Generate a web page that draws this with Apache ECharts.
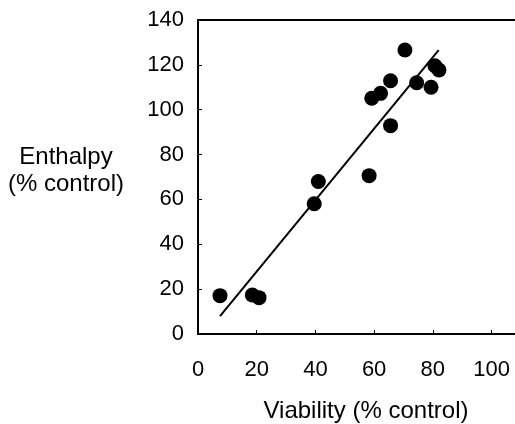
<!DOCTYPE html>
<html>
<head>
<meta charset="utf-8">
<script src="https://cdn.jsdelivr.net/npm/echarts@6/dist/echarts.min.js"></script>
<style>
  html, body { margin: 0; padding: 0; background: #fff; }
  #chart { width: 515px; height: 424px; }
</style>
</head>
<body>
<div id="chart"></div>
<script>
// Viability vs enthalpy, both as % of control
const viability = [7.5, 18.5, 20.8, 39.6, 41.0, 58.3, 59.2, 62.2, 65.6, 65.6, 70.5, 74.5, 79.4, 80.7, 82.1];
const enthalpy  = [17.1, 17.4, 16.2, 58.1, 68.0, 70.6, 105.1, 107.3, 112.9, 92.9, 126.6, 112.0, 110.0, 119.6, 117.7];

// Fitted line end points
const fitX = [7.5, 82.0];
const fitY = [8.0, 126.6];

const xTicks = [0, 20, 40, 60, 80, 100];
const yTicks = [0, 20, 40, 60, 80, 100, 120, 140];

const font = '"Liberation Sans", Arial, sans-serif';

const chart = echarts.init(document.getElementById('chart'), null, { renderer: 'canvas' });

chart.setOption({
  animation: false,
  backgroundColor: '#fff',
  grid: { left: 198, right: 0, top: 20, bottom: 90 },
  xAxis: [{
    type: 'value',
    min: 0,
    max: 108,
    interval: 20,
    axisLine: { show: true, lineStyle: { color: '#000', width: 2 } },
    axisTick: { show: true, inside: true, length: 4, lineStyle: { color: '#000', width: 1 } },
    axisLabel: {
      color: '#000', fontFamily: font, fontSize: 22, margin: 25,
      showMaxLabel: false,
      formatter: v => (xTicks.indexOf(v) >= 0 ? String(v) : '')
    },
    splitLine: { show: false }
  }, {
    type: 'value',
    position: 'top',
    min: 0,
    max: 108,
    axisLine: { show: true, onZero: false, lineStyle: { color: '#000', width: 2 } },
    axisTick: { show: false },
    axisLabel: { show: false },
    splitLine: { show: false }
  }],
  yAxis: {
    type: 'value',
    min: 0,
    max: 140,
    interval: 20,
    axisLine: { show: true, lineStyle: { color: '#000', width: 2 } },
    axisTick: { show: true, inside: true, length: 4, lineStyle: { color: '#000', width: 1 } },
    axisLabel: {
      color: '#000', fontFamily: font, fontSize: 22, margin: 14,
      formatter: v => (yTicks.indexOf(v) >= 0 ? String(v) : '')
    },
    splitLine: { show: false }
  },
  graphic: [{
    type: 'text',
    style: {
      text: 'Enthalpy\n(% control)',
      x: 66, y: 171,
      textAlign: 'center', textVerticalAlign: 'middle',
      font: '24px ' + font, lineHeight: 27, fill: '#000'
    }
  }, {
    type: 'text',
    style: {
      text: 'Viability (% control)',
      x: 366, y: 411,
      textAlign: 'center', textVerticalAlign: 'middle',
      font: '24px ' + font, fill: '#000'
    }
  }],
  series: [{
    type: 'line',
    data: fitX.map((x, i) => [x, fitY[i]]),
    symbol: 'none',
    lineStyle: { color: '#000', width: 2 },
    z: 2
  }, {
    type: 'scatter',
    data: viability.map((x, i) => [x, enthalpy[i]]),
    symbol: 'circle',
    symbolSize: 15,
    itemStyle: { color: '#000', opacity: 1 },
    z: 3
  }]
});
</script>
</body>
</html>
